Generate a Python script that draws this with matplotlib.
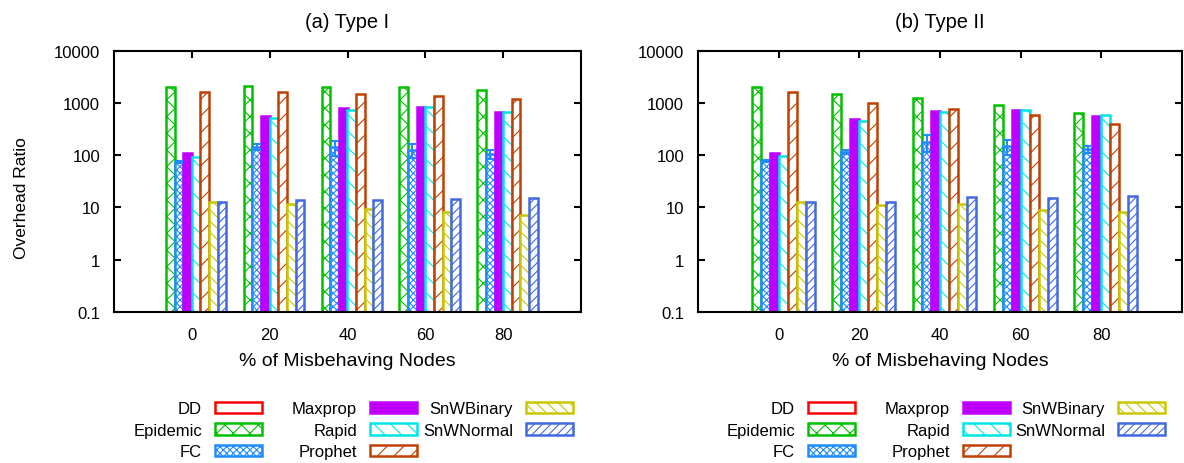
import numpy as np
import matplotlib.pyplot as plt

plt.rcParams['font.family'] = ['Liberation Sans', 'DejaVu Sans']
plt.rcParams['font.size'] = 12
plt.rcParams['hatch.linewidth'] = 0.8

# data
groups = ['0', '20', '40', '60', '80']
names = ['DD', 'Epidemic', 'FC', 'Maxprop', 'Rapid', 'Prophet', 'SnWBinary', 'SnWNormal']

# (a) Type I
type1 = {
    'DD':        [0, 0, 0, 0, 0],
    'Epidemic':  [2000, 2100, 2000, 2000, 1750],
    'FC':        [75, 145, 141, 125, 105],
    'Maxprop':   [109, 570, 800, 826, 662],
    'Rapid':     [94, 508, 745, 826, 690],
    'Prophet':   [1600, 1600, 1470, 1350, 1190],
    'SnWBinary': [12.9, 11.4, 9.4, 8.3, 7.3],
    'SnWNormal': [12.9, 13.6, 13.8, 14.3, 14.9],
}
fc_err1 = [3, 18, 45, 37, 22]

# (b) Type II
type2 = {
    'DD':        [0, 0, 0, 0, 0],
    'Epidemic':  [2000, 1490, 1230, 929, 634],
    'FC':        [77, 116, 180, 150, 130],
    'Maxprop':   [109, 492, 702, 723, 562],
    'Rapid':     [97, 445, 690, 723, 597],
    'Prophet':   [1600, 986, 767, 588, 394],
    'SnWBinary': [12.9, 10.9, 11.4, 9.1, 8.1],
    'SnWNormal': [12.9, 12.9, 15.8, 15.4, 16.5],
}
fc_err2 = [3, 10, 65, 50, 20]

colors = {
    'DD': '#ff0000', 'Epidemic': '#00c000', 'FC': '#1e8cff', 'Maxprop': '#c000ff',
    'Rapid': '#00e6e6', 'Prophet': '#c04000', 'SnWBinary': '#c8c800', 'SnWNormal': '#4169e1',
}
hatches = {
    'DD': '', 'Epidemic': 'xx', 'FC': 'xxxxx', 'Maxprop': '',
    'Rapid': '\\\\', 'Prophet': '//', 'SnWBinary': '\\\\\\', 'SnWNormal': '////',
}

W, H = 1184, 464
fig = plt.figure(figsize=(W / 100, H / 100), dpi=100)
ax1 = fig.add_axes([114 / W, 151.3 / H, 467 / W, 260.7 / H])
ax2 = fig.add_axes([698 / W, 151.3 / H, 484 / W, 260.7 / H])

x = np.arange(len(groups))
w = 1 / 9


def draw(ax, data, fc_err, title, legend_right):
    handles = []
    for k, n in enumerate(names):
        pos = x + (k - 3.5) * w
        solid = n == 'Maxprop'
        kw = {}
        if n == 'FC':
            kw = dict(yerr=fc_err, error_kw=dict(ecolor=colors[n], capsize=3, elinewidth=1.5, capthick=1.5))
        b = ax.bar(pos, data[n], width=w, facecolor=colors[n] if solid else 'white',
                   edgecolor=colors[n], hatch=hatches[n], linewidth=1.8, label=n, **kw)
        handles.append(b)
    ax.set_yscale('log')
    ax.set_ylim(0.1, 10000)
    ax.set_xlim(-1, 5)
    ax.set_xticks(x)
    ax.set_xticklabels(groups)
    ax.set_yticks([0.1, 1, 10, 100, 1000, 10000])
    ax.set_yticklabels(['0.1', '1', '10', '100', '1000', '10000'])
    ax.minorticks_off()
    ax.tick_params(direction='in', length=5, width=1.5, top=True, right=True)
    ax.tick_params(axis='x', pad=11, bottom=False)
    ax.tick_params(axis='y', pad=10)
    for s in ax.spines.values():
        s.set_linewidth(1.5)
    ax.set_xlabel('% of Misbehaving Nodes', labelpad=7, fontsize=14)
    ax.set_title(title, pad=17)
    # gnuplot-style key: three fixed-width columns, label left of the sample
    for c in range(3):
        hs = handles[c * 3:c * 3 + 3]
        fig.legend(hs, [h.get_label() for h in hs], loc='upper right',
                   bbox_to_anchor=(legend_right[c] / W, (H - 402.5) / H),
                   frameon=False, markerfirst=False, handlelength=2.8, handleheight=0.66,
                   handletextpad=0.8, labelspacing=0.38, borderpad=0, borderaxespad=0)


draw(ax1, type1, fc_err1, '(a) Type I', [262, 417, 573])
draw(ax2, type2, fc_err2, '(b) Type II', [855, 1010, 1165])
ax1.set_ylabel('Overhead Ratio', fontsize=12.5)
ax1.yaxis.set_label_coords(-0.182, 0.44)

fig.savefig('out.png', dpi=100)
